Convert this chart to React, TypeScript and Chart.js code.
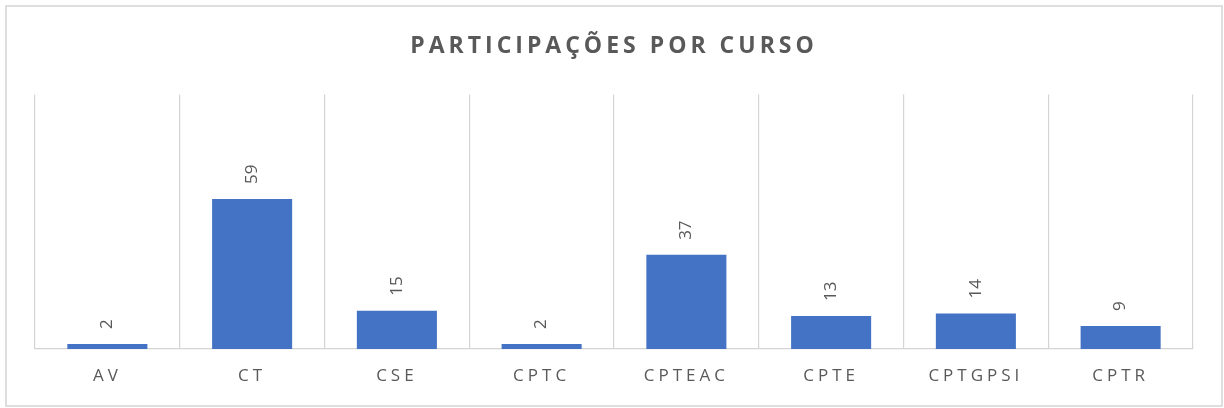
import React, { useEffect, useRef } from "react";
import { Chart, registerables } from "chart.js";

Chart.register(...registerables);

const categories = ["AV", "CT", "CSE", "CPTC", "CPTEAC", "CPTE", "CPTGPSI", "CPTR"];
const participacoes = [2, 59, 15, 2, 37, 13, 14, 9];
const titleText = "PARTICIPAÇÕES POR CURSO";

const GRAY = "#595959";
const LINE = "#d4d4d4";
const BAR = "#4472C4";
const SPACING = "4px";

const spacingPlugin = {
  id: "spacing",
  beforeDraw(chart: any) {
    const ctx = chart.ctx;
    ctx.save();
    ctx.fillStyle = "#ffffff";
    ctx.fillRect(0, 0, chart.width, chart.height);
    ctx.strokeStyle = LINE;
    ctx.lineWidth = 1.5;
    ctx.strokeRect(6, 6, 1216, 400);
    ctx.restore();
    (ctx as any).letterSpacing = SPACING;
  },
  afterDatasetsDraw(chart: any) {
    const ctx = chart.ctx;
    const meta = chart.getDatasetMeta(0);
    const data = chart.data.datasets[0].data;
    ctx.save();
    (ctx as any).letterSpacing = "0px";
    ctx.fillStyle = GRAY;
    ctx.font = "17px 'Open Sans'";
    ctx.textAlign = "left";
    ctx.textBaseline = "middle";
    meta.data.forEach((bar: any, i: number) => {
      ctx.save();
      ctx.translate(bar.x, bar.y - 15);
      ctx.rotate(-Math.PI / 2);
      ctx.fillText(String(data[i]), 0, 0);
      ctx.restore();
    });
    ctx.restore();
    (ctx as any).letterSpacing = SPACING;
  },
  afterDraw(chart: any) {
    (chart.ctx as any).letterSpacing = "0px";
  },
};

export default function App() {
  const ref = useRef<HTMLCanvasElement | null>(null);
  useEffect(() => {
    document.body.style.margin = "0";
    if (!ref.current) return;
    const chart = new Chart(ref.current, {
      type: "bar",
      data: {
        labels: categories,
        datasets: [
          {
            data: participacoes,
            backgroundColor: BAR,
            categoryPercentage: 0.553,
            barPercentage: 1,
          },
        ],
      },
      options: {
        animation: false,
        responsive: false,
        devicePixelRatio: 1,
        layout: { padding: { left: 35, right: 31, top: 0, bottom: 9 } },
        plugins: {
          legend: { display: false },
          tooltip: { enabled: false },
          title: {
            display: true,
            text: titleText,
            color: GRAY,
            font: { family: "'Open Sans'", size: 23, weight: "bold", lineHeight: 1.2 },
            padding: { top: 33, bottom: 34 },
          },
        },
        scales: {
          x: {
            grid: { color: LINE, lineWidth: 1.2, drawTicks: false, offset: true },
            border: { display: true, color: LINE, width: 1.2 },
            ticks: {
              color: GRAY,
              font: { family: "'Open Sans'", size: 17 },
              padding: 17,
              maxRotation: 0,
            },
            afterFit: (s: any) => {
              s.height = 50;
            },
          },
          y: {
            display: false,
            min: 0,
            max: 100,
          },
        },
      },
      plugins: [spacingPlugin],
    });
    return () => chart.destroy();
  }, []);
  return (
    <div style={{ width: 1224, height: 408 }}>
      <canvas ref={ref} width={1224} height={408} style={{ display: "block" }} />
    </div>
  );
}
